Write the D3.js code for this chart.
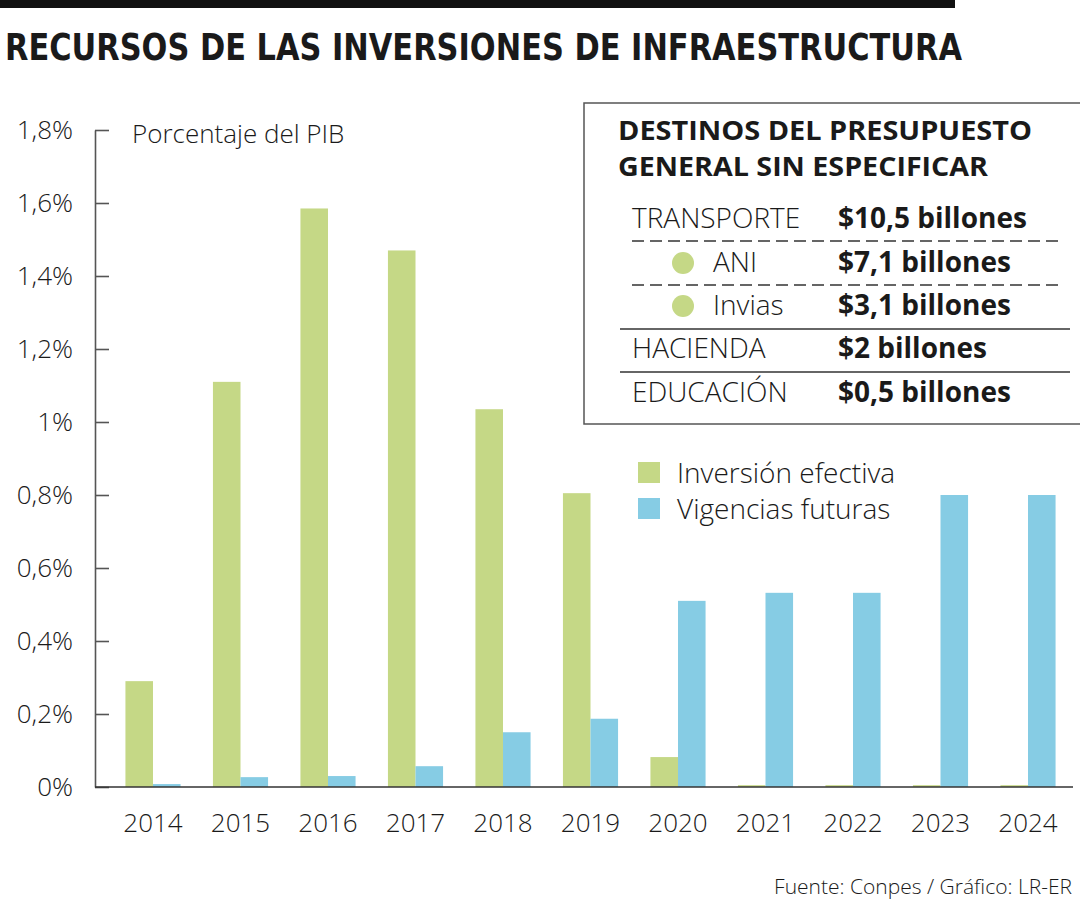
<!DOCTYPE html>
<html lang="es">
<head>
<meta charset="UTF-8">
<title>Recursos de las inversiones de infraestructura</title>
<script src="https://d3js.org/d3.v7.min.js"></script>
<style>
  body { margin: 0; background: #fff; }
  svg { display: block; }
  text { fill: #1a1a1a; }
  .light { font-family: "Open Sans", "Noto Sans", sans-serif; font-weight: 300; }
  .bold { font-family: "Open Sans", "Noto Sans", sans-serif; font-weight: 700; }
</style>
</head>
<body>
<svg id="chart" width="1080" height="900"></svg>
<script>
// datos (porcentaje del PIB)
const years = ["2014", "2015", "2016", "2017", "2018", "2019", "2020", "2021", "2022", "2023", "2024"];
const inversionEfectiva = [0.29, 1.11, 1.585, 1.47, 1.035, 0.805, 0.082, 0.005, 0.005, 0.005, 0.005];
const vigenciasFuturas = [0.008, 0.027, 0.030, 0.057, 0.150, 0.187, 0.510, 0.532, 0.532, 0.800, 0.800];
const yTicks = [0, 0.2, 0.4, 0.6, 0.8, 1, 1.2, 1.4, 1.6, 1.8];
const yTickLabels = ["0%", "0,2%", "0,4%", "0,6%", "0,8%", "1%", "1,2%", "1,4%", "1,6%", "1,8%"];
const seriesNames = ["Inversión efectiva", "Vigencias futuras"];
const seriesColors = ["#c5d886", "#86cce4"];

// recuadro de destinos
const tableTitle = ["DESTINOS DEL PRESUPUESTO", "GENERAL SIN ESPECIFICAR"];
const tableLabels = ["TRANSPORTE", "ANI", "Invias", "HACIENDA", "EDUCACIÓN"];
const tableValues = ["$10,5 billones", "$7,1 billones", "$3,1 billones", "$2 billones", "$0,5 billones"];
const tableSub = [false, true, true, false, false];

const svg = d3.select("#chart");

// barra superior y titulo
svg.append("rect").attr("x", 0).attr("y", 0).attr("width", 955).attr("height", 8).attr("fill", "#111");
svg.append("text")
  .attr("x", 5).attr("y", 60)
  .attr("textLength", 957).attr("lengthAdjust", "spacingAndGlyphs")
  .style("font-family", "'Liberation Sans Narrow', 'DejaVu Sans Condensed', sans-serif")
  .style("font-weight", 700).style("font-size", "38px")
  .text("RECURSOS DE LAS INVERSIONES DE INFRAESTRUCTURA");

// escalas
const x = d3.scaleBand().domain(years).range([109.25, 1071.75]);
const y = d3.scaleLinear().domain([0, 1.8]).range([787, 130]);
const barW = x.bandwidth() * 0.315;

// eje y
const yAxis = svg.append("g")
  .attr("transform", "translate(95,0)")
  .call(d3.axisLeft(y).tickValues(yTicks).tickSize(-14).tickSizeOuter(0).tickPadding(22)
    .tickFormat((d, i) => yTickLabels[i]));
yAxis.selectAll("path, line").attr("stroke", "#555").attr("stroke-width", 1.6);
yAxis.selectAll("text").attr("class", "light").style("font-size", "26px").attr("fill", "#1a1a1a");

svg.append("text").attr("class", "light")
  .attr("x", 132).attr("y", 143).style("font-size", "26px")
  .text("Porcentaje del PIB");

// barras
const groups = svg.append("g").selectAll("g").data(years).join("g");
groups.append("rect")
  .attr("x", d => x(d) + x.bandwidth() / 2 - barW)
  .attr("width", barW)
  .attr("y", (d, i) => y(inversionEfectiva[i]))
  .attr("height", (d, i) => y(0) - y(inversionEfectiva[i]))
  .attr("fill", seriesColors[0]);
groups.append("rect")
  .attr("x", d => x(d) + x.bandwidth() / 2)
  .attr("width", barW)
  .attr("y", (d, i) => y(vigenciasFuturas[i]))
  .attr("height", (d, i) => y(0) - y(vigenciasFuturas[i]))
  .attr("fill", seriesColors[1]);

// linea base
svg.append("line").attr("x1", 95).attr("x2", 1073).attr("y1", y(0)).attr("y2", y(0))
  .attr("stroke", "#333").attr("stroke-width", 1.6);

// eje x
const xAxis = svg.append("g")
  .attr("transform", `translate(0,${y(0)})`)
  .call(d3.axisBottom(x).tickSize(0).tickPadding(27));
xAxis.select(".domain").remove();
xAxis.selectAll("text").attr("class", "light").style("font-size", "26px").attr("fill", "#1a1a1a");

// leyenda
const legend = svg.append("g").selectAll("g").data(seriesNames).join("g")
  .attr("transform", (d, i) => `translate(638,${462 + i * 36})`);
legend.append("rect").attr("width", 22).attr("height", 21).attr("fill", (d, i) => seriesColors[i]);
legend.append("text").attr("class", "light")
  .attr("x", 39).attr("y", 21).style("font-size", "28px")
  .text(d => d);

// recuadro
const box = svg.append("g");
box.append("rect").attr("x", 584).attr("y", 103).attr("width", 520).attr("height", 321)
  .attr("fill", "#fff").attr("stroke", "#555").attr("stroke-width", 1.5);
const titleLen = [414, 370];
box.selectAll(".tt").data(tableTitle).join("text")
  .attr("class", "bold")
  .attr("x", 618).attr("y", (d, i) => 140 + i * 36)
  .attr("textLength", (d, i) => titleLen[i]).attr("lengthAdjust", "spacingAndGlyphs")
  .style("font-size", "26px")
  .text(d => d);

const rowBase = [228, 272, 315, 358, 402];
const rows = box.selectAll(".row").data(tableLabels).join("g");
rows.append("text").attr("class", "light")
  .attr("x", (d, i) => tableSub[i] ? 713 : 632)
  .attr("y", (d, i) => rowBase[i])
  .style("font-size", "28px")
  .text(d => d);
rows.append("text").attr("class", "bold")
  .attr("x", 838).attr("y", (d, i) => rowBase[i])
  .style("font-size", "28px")
  .text((d, i) => tableValues[i]);
rows.filter((d, i) => tableSub[i]).append("circle")
  .attr("cx", 683).attr("cy", (d, i) => [263, 306][i]).attr("r", 11)
  .attr("fill", seriesColors[0]);

// separadores
const sepY = [241, 285, 329, 372];
const sepDash = [true, true, false, false];
box.selectAll(".sep").data(sepY).join("line")
  .attr("x1", (d, i) => sepDash[i] ? 632 : 620)
  .attr("x2", (d, i) => sepDash[i] ? 1060 : 1070)
  .attr("y1", d => d).attr("y2", d => d)
  .attr("stroke", "#333").attr("stroke-width", 1.3)
  .attr("stroke-dasharray", (d, i) => sepDash[i] ? "12,6" : null);

// fuente
svg.append("text").attr("class", "light")
  .attr("x", 1072).attr("y", 894).attr("text-anchor", "end")
  .style("font-size", "21px")
  .text("Fuente: Conpes / Gráfico: LR-ER");
</script>
</body>
</html>
